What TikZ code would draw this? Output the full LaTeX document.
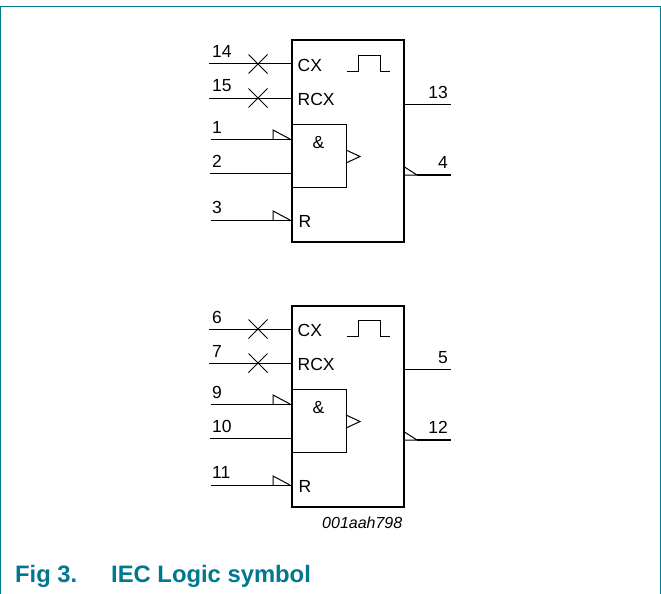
\documentclass[tikz,border=0pt]{standalone}
\usepackage{fontspec}
\setmainfont{Liberation Sans}
\usetikzlibrary{shapes.misc}
\definecolor{figteal}{HTML}{00788F}
\tikzset{
  chipbox/.style={draw,line width=2pt,minimum width=112pt,minimum height=201pt,inner sep=0pt,anchor=north west},
  andbox/.style={draw,line width=1pt,minimum width=55pt,minimum height=63pt,inner sep=0pt,anchor=north west},
  pin/.style={line width=1pt},
  thinpin/.style={line width=1pt},
  crossmark/.style={draw,cross out,line width=1pt,minimum size=18pt,inner sep=0pt},
  lbl/.style={font=\fontsize{17.5}{20}\selectfont,inner sep=0pt,anchor=base west},
  rlbl/.style={lbl,anchor=base east},
}
% one monostable: name, y offset, pin numbers
\newcommand{\iecchip}[9]{
  \begin{scope}[shift={(0,#2)},name prefix=#1-]
    \node[chipbox] (chip) at (290.5,39.5) {};
    \node[andbox] (and) at (290.5,123.5) {};
    \node[lbl] (cx) at (297.5,71) {CX};
    \node[lbl] (rcx) at (297.5,105) {RCX};
    \node[lbl] (r) at (298.5,227) {R};
    \node[lbl,anchor=base] (amp) at (318.5,148) {\&};
    % inputs
    \foreach \p/\x/\y/\b/\t in {a/209/64/58/#3,b/209/98/92/#4,c/211/139/133/#5,d/210/173/167/#6,e/211/220/213/#7}{
      \coordinate (\p) at (\x,\y);
      \draw[pin] (\p) -- (\p -| chip.west);
      \node[lbl] (l\p) at (212,\b) {\t};
    }
    \node[crossmark] (xa) at (258,64) {};
    \node[crossmark] (xb) at (258,98) {};
    \foreach \y in {139,220}
      \draw[thinpin] (273,\y) -- (273,\y-9) -- (290,\y);
    \draw[thinpin] (346,150) -- (360,156.5) -- (346,163);
    % pulse
    \draw[thinpin] (347,71.5) -- (358,71.5) -- (358,55.5) -- (380,55.5) -- (380,71.5) -- (390,71.5);
    % outputs
    \coordinate (q) at (451,104);
    \coordinate (qn) at (451,175);
    \coordinate (qk) at (417,175);
    \draw[pin] (chip.east |- q) -- (q);
    \node[rlbl] (lq) at (448,98) {#8};
    \draw[line width=1.3pt] (qk) -- (qn);
    \draw[thinpin] (chip.east |- 0,167) -- (qk) -- (chip.east |- qk);
    \node[rlbl] (lqn) at (448,168) {#9};
  \end{scope}
}
\begin{document}
\begin{tikzpicture}[x=1pt,y=-1pt]
  \useasboundingbox (0,0) rectangle (661,594);
  \draw[figteal,line width=1.4pt] (0.6,594) -- (0.6,6.6) -- (660.2,6.6) -- (660.2,594);
  \iecchip{top}{0}{14}{15}{1}{2}{3}{13}{4}
  \iecchip{bot}{265}{6}{7}{9}{10}{11}{5}{12}
  \node[font=\fontsize{16}{18}\selectfont\itshape,inner sep=0pt,anchor=base east] (code) at (402.5,528) {001aah798};
  \node[font=\fontsize{23.8}{26}\selectfont\bfseries,text=figteal,inner sep=0pt,anchor=base west] (fig) at (15,582) {Fig 3.};
  \node[font=\fontsize{23.8}{26}\selectfont\bfseries,text=figteal,inner sep=0pt,anchor=base west] (title) at (111,582) {IEC Logic symbol};
\end{tikzpicture}
\end{document}
